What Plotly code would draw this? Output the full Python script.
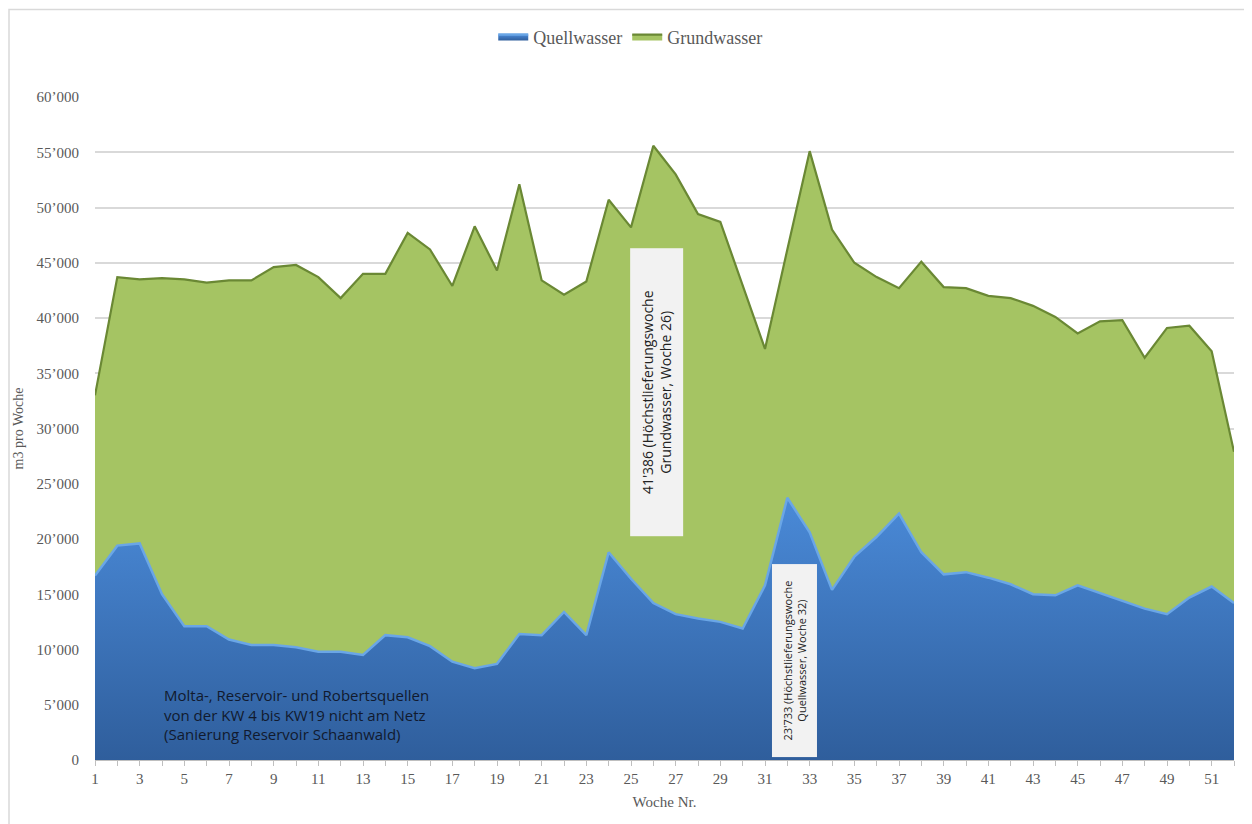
import plotly.graph_objects as go

weeks = list(range(1, 53))

quellwasser = [16700, 19400, 19600, 15000, 12100, 12100, 10900, 10400, 10400, 10200,
               9800, 9800, 9500, 11300, 11100, 10300, 8900, 8300, 8700, 11400,
               11300, 13400, 11300, 18800, 16400, 14200, 13200, 12800, 12500, 11900,
               15800, 23733, 20600, 15400, 18400, 20200, 22300, 18800, 16800, 17000,
               16500, 15900, 15000, 14900, 15800, 15100, 14400, 13700, 13200, 14700,
               15700, 14200]

gesamt = [33000, 43700, 43500, 43600, 43500, 43200, 43400, 43400, 44600, 44800,
          43700, 41800, 44000, 44000, 47700, 46200, 42900, 48300, 44300, 52100,
          43400, 42100, 43300, 50700, 48200, 55586, 53000, 49400, 48700, 42900,
          37200, 46200, 55100, 48000, 45000, 43700, 42700, 45100, 42800, 42700,
          42000, 41800, 41100, 40100, 38600, 39700, 39800, 36400, 39100, 39300,
          37000, 27900]

grundwasser = [g - q for g, q in zip(gesamt, quellwasser)]

y_ticks = [0, 5000, 10000, 15000, 20000, 25000, 30000, 35000, 40000, 45000, 50000, 55000, 60000]
y_labels = ["0", "5’000", "10’000", "15’000", "20’000", "25’000", "30’000",
            "35’000", "40’000", "45’000", "50’000", "55’000", "60’000"]
x_ticks = list(range(1, 53, 2))

serif = "Liberation Serif"
grey = "#595959"

fig = go.Figure()
fig.add_trace(go.Scatter(
    x=weeks, y=quellwasser, name="Quellwasser", stackgroup="one",
    mode="lines", line=dict(color="#6aa6e6", width=2.5),
    fillcolor="#3c78c4",
    fillgradient=dict(type="vertical",
                      colorscale=[[0, "#2f5e9c"], [1, "#4a8ad8"]]),
))
fig.add_trace(go.Scatter(
    x=weeks, y=grundwasser, name="Grundwasser", stackgroup="one",
    mode="lines", line=dict(color="#6a8834", width=2.2),
    fillcolor="#a5c463",
))

fig.add_annotation(
    x=4.0, y=4100, xref="x", yref="y", xanchor="left", yanchor="middle",
    text="Molta-, Reservoir- und Robertsquellen<br>von der KW 4 bis KW19 nicht am Netz<br>(Sanierung Reservoir Schaanwald)",
    showarrow=False, align="left",
    font=dict(family="Open Sans", size=15, color="#111a2e"),
)
fig.add_annotation(
    x=26.15, y=33300, xref="x", yref="y",
    text="41'386 (Höchstlieferungswoche<br>Grundwasser, Woche 26)",
    showarrow=False, textangle=-90, align="center",
    font=dict(family="Open Sans", size=14, color="#222222"),
    bgcolor="#f2f2f2", width=285, height=50,
)
fig.add_annotation(
    x=32.3, y=9000, xref="x", yref="y",
    text="23'733 (Höchstlieferungswoche<br>Quellwasser, Woche 32)",
    showarrow=False, textangle=-90, align="center",
    font=dict(family="Liberation Sans Narrow, Open Sans", size=11, color="#222222"),
    bgcolor="#f2f2f2", width=190, height=42,
)

fig.add_shape(type="rect", xref="paper", yref="paper",
              x0=-0.0755, x1=1.013, y0=-0.15, y1=1.132,
              line=dict(color="#d9d9d9", width=1.5), layer="below")

fig.update_layout(
    width=1252, height=824,
    margin=dict(l=87, r=26, t=89, b=72, autoexpand=False),
    paper_bgcolor="white", plot_bgcolor="white",
    showlegend=True,
    legend=dict(orientation="h", xref="container", yref="container",
                x=0.497, xanchor="center", y=0.965, yanchor="middle",
                font=dict(family=serif, size=18, color=grey),
                itemwidth=30, traceorder="normal"),
    font=dict(family=serif, color=grey),
)
fig.update_xaxes(
    range=[1, 52], tickmode="array", tickvals=x_ticks,
    ticktext=[str(v) for v in x_ticks], automargin=False,
    ticks="outside", ticklen=5, tickcolor="#bfbfbf",
    minor=dict(ticks="outside", dtick=1, tick0=1, ticklen=5, tickcolor="#bfbfbf"),
    showline=True, linecolor="#bfbfbf", showgrid=False, zeroline=False,
    tickfont=dict(family=serif, size=15, color=grey),
    title=dict(text="Woche Nr.", font=dict(family=serif, size=15, color=grey), standoff=10),
)
fig.update_yaxes(
    range=[0, 60000], tickmode="array", tickvals=y_ticks, ticktext=y_labels,
    showgrid=True, gridcolor="#d9d9d9", gridwidth=1.5, zeroline=False,
    showline=False, ticks="", ticklabelstandoff=15, automargin=False,
    tickfont=dict(family=serif, size=15, color=grey),
    title=dict(text="m3 pro Woche", font=dict(family=serif, size=14, color=grey), standoff=9),
)

fig.write_html("out.html")
